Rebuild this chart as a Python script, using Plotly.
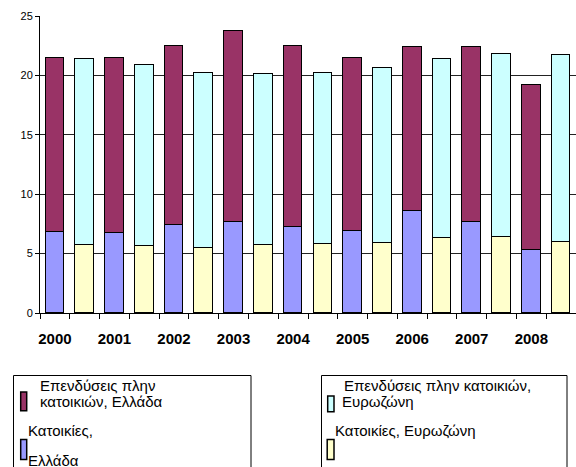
import plotly.graph_objects as go

# Investment as % of GDP: Greece vs euro area, split into housing / non-housing
years = ["2000", "2001", "2002", "2003", "2004", "2005", "2006", "2007", "2008"]
gr_housing = [6.8, 6.7, 7.4, 7.7, 7.2, 6.9, 8.6, 7.7, 5.3]
gr_other = [14.7, 14.8, 15.1, 16.0, 15.3, 14.6, 13.8, 14.7, 13.9]
ez_housing = [5.7, 5.6, 5.5, 5.7, 5.8, 5.9, 6.3, 6.4, 6.0]
ez_other = [15.7, 15.3, 14.7, 14.4, 14.4, 14.7, 15.1, 15.4, 15.7]

name_gr_other = "Επενδύσεις πλην κατοικιών, Ελλάδα"
name_gr_housing = "Κατοικίες, Ελλάδα"
name_ez_other = "Επενδύσεις πλην κατοικιών, Ευρωζώνη"
name_ez_housing = "Κατοικίες, Ευρωζώνη"

C_GR_OTHER = "#993366"
C_GR_HOUSING = "#9999FF"
C_EZ_OTHER = "#CCFFFF"
C_EZ_HOUSING = "#FFFFCC"

FONT = "Arial, 'Liberation Sans', sans-serif"

# Greece and euro area alternate: Greece on even slots, euro area on odd slots
n = len(years)
gr_x = [2 * i for i in range(n)]
ez_x = [2 * i + 1 for i in range(n)]

W, H = 576, 467
ML, MR, MT, MB = 40, 0, 16, 154
PW, PH = W - ML - MR, H - MT - MB

BAR_W = 0.63
outline = dict(color="#000000", width=1)

fig = go.Figure()
fig.add_trace(go.Bar(x=gr_x, y=gr_housing, name=name_gr_housing, width=BAR_W,
                     marker=dict(color=C_GR_HOUSING, line=outline)))
fig.add_trace(go.Bar(x=gr_x, y=gr_other, name=name_gr_other, width=BAR_W,
                     marker=dict(color=C_GR_OTHER, line=outline)))
fig.add_trace(go.Bar(x=ez_x, y=ez_housing, name=name_ez_housing, width=BAR_W,
                     marker=dict(color=C_EZ_HOUSING, line=outline)))
fig.add_trace(go.Bar(x=ez_x, y=ez_other, name=name_ez_other, width=BAR_W,
                     marker=dict(color=C_EZ_OTHER, line=outline)))


def px_x(px):
    return (px - ML) / PW


def px_y(py):
    return (MT + PH - py) / PH


shapes = []
annotations = []

# bordered legend boxes (open at the bottom edge of the page)
for x0, x1 in [(13.5, 251), (321.5, 567)]:
    shapes.append(dict(type="rect", xref="paper", yref="paper",
                       x0=px_x(x0), x1=px_x(x1), y0=px_y(490), y1=px_y(375.5),
                       line=dict(color="#000000", width=1), fillcolor="white",
                       layer="above"))

legend_items = [
    # (color, swatch x0, x1, y0, y1, [(text, x, y_center), ...])
    (C_GR_OTHER, 20.7, 26.7, 392, 410.7,
     [("Επενδύσεις πλην", 38, 386), ("κατοικιών, Ελλάδα", 38, 401)]),
    (C_GR_HOUSING, 20.7, 26.7, 439.5, 459.5,
     [("Κατοικίες,", 26, 430.5), ("Ελλάδα", 26, 460)]),
    (C_EZ_OTHER, 327.7, 334, 396, 411.7,
     [("Επενδύσεις πλην κατοικιών,", 341.5, 386), ("Ευρωζώνη", 340, 401)]),
    (C_EZ_HOUSING, 327.2, 334, 439.5, 459.5,
     [("Κατοικίες, Ευρωζώνη", 333, 430.5)]),
]

for color, sx0, sx1, sy0, sy1, lines in legend_items:
    shapes.append(dict(type="rect", xref="paper", yref="paper",
                       x0=px_x(sx0), x1=px_x(sx1), y0=px_y(sy1), y1=px_y(sy0),
                       line=dict(color="#000000", width=1.5), fillcolor=color,
                       layer="above"))
    for text, tx, ty in lines:
        annotations.append(dict(text=text, xref="paper", yref="paper",
                                x=px_x(tx), y=px_y(ty), xanchor="left",
                                yanchor="middle", showarrow=False,
                                font=dict(family=FONT, size=15, color="#000000")))

fig.update_layout(
    width=W, height=H,
    margin=dict(l=ML, r=MR, t=MT, b=MB, pad=0),
    barmode="stack",
    bargap=0,
    showlegend=False,
    plot_bgcolor="white",
    paper_bgcolor="white",
    font=dict(family=FONT, color="#000000"),
    shapes=shapes,
    annotations=annotations,
)

fig.update_xaxes(
    range=[-0.5, 2 * n - 0.5],
    tickvals=gr_x, ticktext=years,
    tickfont=dict(family=FONT, size=15, weight="bold", color="#000000"),
    ticks="", ticklabelstandoff=12,
    showline=True, linecolor="#000000", linewidth=1,
    showgrid=False, zeroline=False,
    minor=dict(tickvals=[i - 0.5 for i in range(2 * n + 1)], ticks="outside",
               ticklen=5, tickcolor="#000000", tickwidth=1, showgrid=False),
)

fig.update_yaxes(
    range=[0, 25], dtick=5, tick0=0,
    tickfont=dict(family=FONT, size=11, color="#000000"),
    ticks="outside", ticklen=4, tickcolor="#000000",
    showline=True, linecolor="#000000", linewidth=1,
    showgrid=True, gridcolor="#222222", gridwidth=1,
    zeroline=False,
)

fig.write_html("out.html")
